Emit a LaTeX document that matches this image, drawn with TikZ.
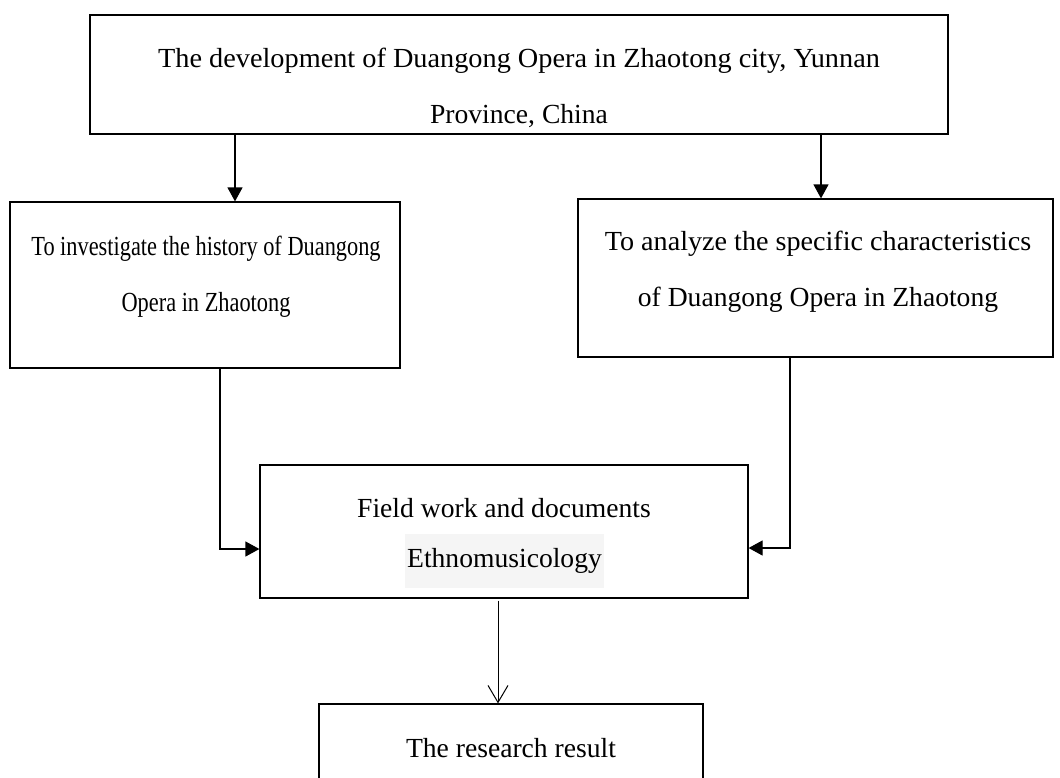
\documentclass[tikz,border=0pt]{standalone}
\usepackage{fontspec}
\setmainfont{Liberation Serif}
\usepackage{xcolor}
\usepackage{tikz}
\usetikzlibrary{positioning,calc,arrows.meta}
\definecolor{hlgray}{HTML}{F5F5F5}
\tikzset{
  box/.style={draw, line width=0.6pt, inner sep=0pt},
  txt/.style={align=center, inner sep=0pt, font=\fontsize{13.8}{28}\selectfont},
  arr/.style={-{Triangle[length=7pt,width=7.5pt]}, line width=0.6pt},
  openarr/.style={-{Straight Barb[length=8.5pt,width=10pt]}, line width=0.5pt}
}
\newcommand{\narrow}[1]{\scalebox{0.81}[1]{#1}}

\begin{document}
\begin{tikzpicture}[x=0.5pt, y=-0.5pt]
    \useasboundingbox (0,0) rectangle (1060,777);
    \clip (0,0) rectangle (1060,777);

    % Top box
    \node[box, minimum width=429pt, minimum height=59.5pt] (dev) at (519,74.5) {};
    \node[txt] (devtxt) at (519,88) {\scalebox{1.025}[1]{The development of Duangong Opera in Zhaotong city, Yunnan}\\Province, China};

    % Two aims
    \node[box, minimum width=195pt, minimum height=83pt] (hist) at (205,285) {};
    \node[txt] (histtxt) at (206,277) {\narrow{To investigate the history of Duangong}\\\narrow{Opera in Zhaotong}};
    \node[box, minimum width=237.5pt, minimum height=79pt] (anal) at (815.5,278) {};
    \node[txt] (analtxt) at (818,271.5) {\scalebox{1.02}[1]{To analyze the specific characteristics}\\of Duangong Opera in Zhaotong};

    % Method
    \node[box, minimum width=244pt, minimum height=66.5pt] (field) at (504,531.5) {};
    \node[txt] (fieldtxt) at (504,508) {Field work and documents};
    \node[txt, fill=hlgray, minimum width=99.5pt, minimum height=27pt] (ethno) at (504.5,561) {Ethnomusicology};

    % Result
    \node[box, minimum width=192pt, minimum height=43pt] (result) at (511,747) {};
    \node[txt] (resulttxt) at (511,748) {The research result};

    % Arrows from the top box
    \coordinate (h1) at ([xshift=15pt]hist.north);
    \coordinate (a1) at ([xshift=2.75pt]anal.north);
    \draw[arr] (h1 |- dev.south) -- (h1);
    \draw[arr] (a1 |- dev.south) -- (a1);

    % Into the method box
    \draw[arr] ([xshift=-13pt]hist.south) -- ([xshift=7.5pt]hist.south) |- ([yshift=-8.75pt]field.west);
    \draw[arr] ([xshift=7.25pt]anal.south) -- ([xshift=-12.75pt]anal.south) |- ([yshift=-8.25pt]field.east);

    % Down to the result
    \coordinate (f1) at ([xshift=-3pt,yshift=-1pt]field.south);
    \draw[openarr] (f1) -- (f1 |- result.north);
\end{tikzpicture}
\end{document}
